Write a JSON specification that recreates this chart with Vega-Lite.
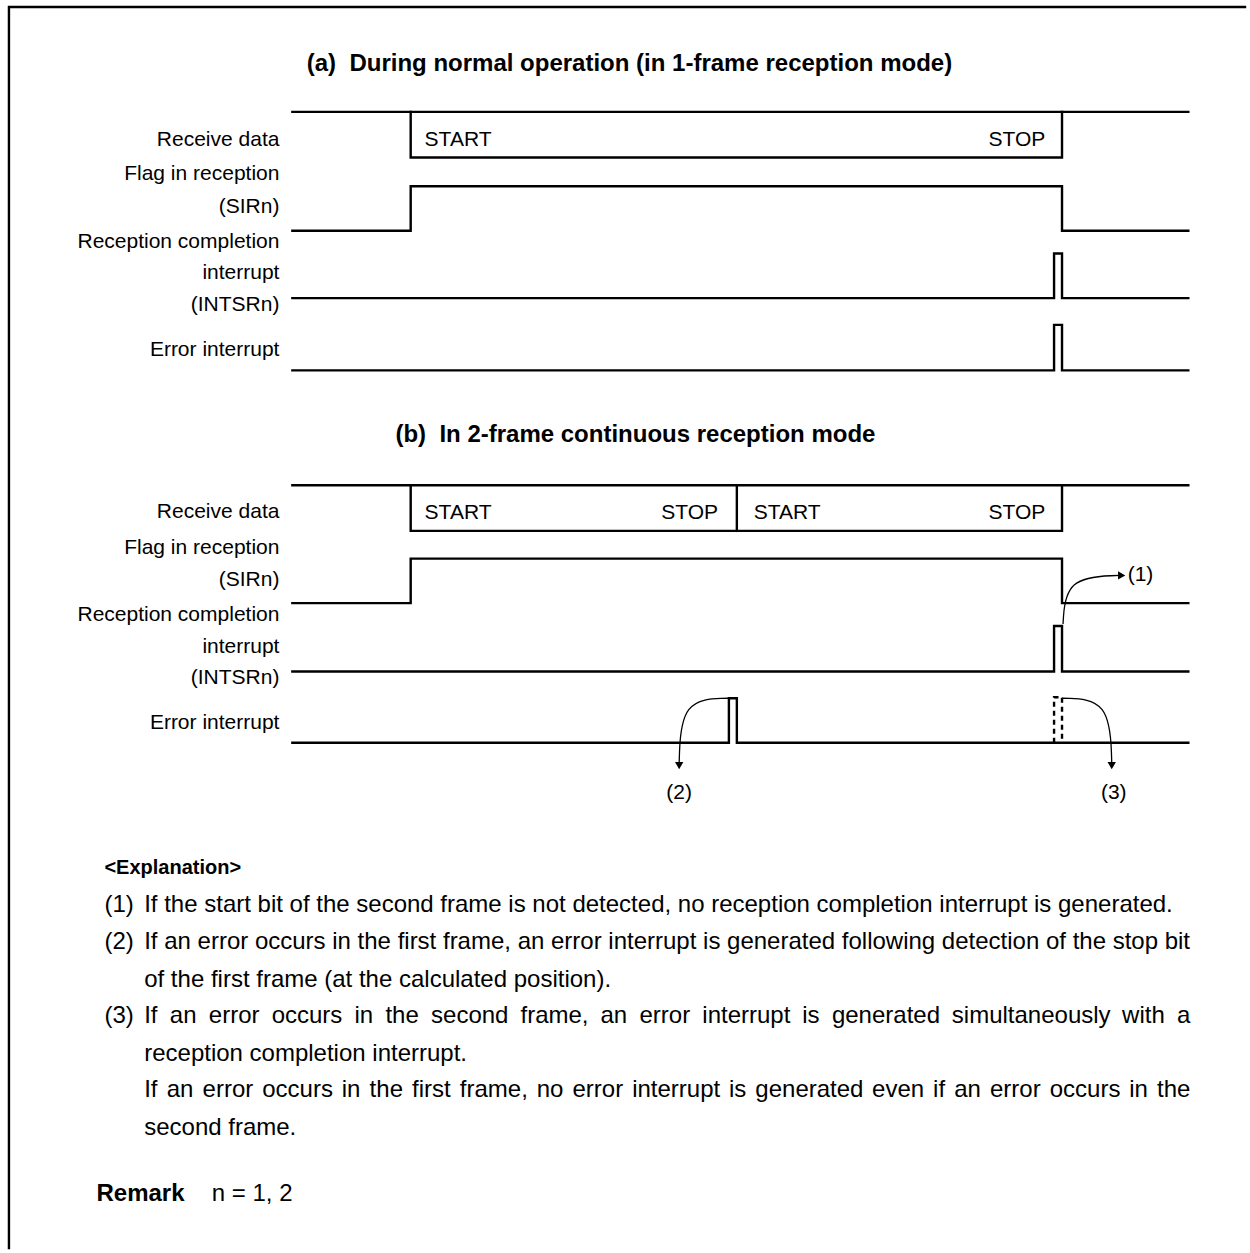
{
  "$schema": "https://vega.github.io/schema/vega-lite/v6.json",
  "width": 1250,
  "height": 1253,
  "autosize": {"type": "fit", "contains": "padding"},
  "padding": 0,
  "background": "white",
  "config": {"view": {"stroke": null}, "font": "Liberation Sans"},
  "datasets": {
    "w": [
      {"s": "frame", "o": 1, "x": 9, "y": 1260},
      {"s": "frame", "o": 2, "x": 9, "y": 7},
      {"s": "frame", "o": 3, "x": 1252, "y": 7},
      {"s": "a_rd_top", "o": 1, "x": 294, "y": 113},
      {"s": "a_rd_top", "o": 2, "x": 1195, "y": 113},
      {"s": "a_rd_box", "o": 1, "x": 413, "y": 113},
      {"s": "a_rd_box", "o": 2, "x": 413, "y": 159},
      {"s": "a_rd_box", "o": 3, "x": 1068, "y": 159},
      {"s": "a_rd_box", "o": 4, "x": 1068, "y": 113},
      {"s": "a_flag", "o": 1, "x": 294, "y": 233},
      {"s": "a_flag", "o": 2, "x": 413, "y": 233},
      {"s": "a_flag", "o": 3, "x": 413, "y": 188},
      {"s": "a_flag", "o": 4, "x": 1068, "y": 188},
      {"s": "a_flag", "o": 5, "x": 1068, "y": 233},
      {"s": "a_flag", "o": 6, "x": 1195, "y": 233},
      {"s": "a_rc", "o": 1, "x": 294, "y": 301},
      {"s": "a_rc", "o": 2, "x": 1060, "y": 301},
      {"s": "a_rc", "o": 3, "x": 1060, "y": 256},
      {"s": "a_rc", "o": 4, "x": 1068, "y": 256},
      {"s": "a_rc", "o": 5, "x": 1068, "y": 301},
      {"s": "a_rc", "o": 6, "x": 1195, "y": 301},
      {"s": "a_err", "o": 1, "x": 294, "y": 374},
      {"s": "a_err", "o": 2, "x": 1060, "y": 374},
      {"s": "a_err", "o": 3, "x": 1060, "y": 328},
      {"s": "a_err", "o": 4, "x": 1068, "y": 328},
      {"s": "a_err", "o": 5, "x": 1068, "y": 374},
      {"s": "a_err", "o": 6, "x": 1195, "y": 374},
      {"s": "b_rd_top", "o": 1, "x": 294, "y": 490},
      {"s": "b_rd_top", "o": 2, "x": 1195, "y": 490},
      {"s": "b_rd_box", "o": 1, "x": 413, "y": 490},
      {"s": "b_rd_box", "o": 2, "x": 413, "y": 536},
      {"s": "b_rd_box", "o": 3, "x": 1068, "y": 536},
      {"s": "b_rd_box", "o": 4, "x": 1068, "y": 490},
      {"s": "b_rd_div", "o": 1, "x": 741, "y": 490},
      {"s": "b_rd_div", "o": 2, "x": 741, "y": 536},
      {"s": "b_flag", "o": 1, "x": 294, "y": 609},
      {"s": "b_flag", "o": 2, "x": 413, "y": 609},
      {"s": "b_flag", "o": 3, "x": 413, "y": 564},
      {"s": "b_flag", "o": 4, "x": 1068, "y": 564},
      {"s": "b_flag", "o": 5, "x": 1068, "y": 609},
      {"s": "b_flag", "o": 6, "x": 1195, "y": 609},
      {"s": "b_rc", "o": 1, "x": 294, "y": 678},
      {"s": "b_rc", "o": 2, "x": 1060, "y": 678},
      {"s": "b_rc", "o": 3, "x": 1060, "y": 632},
      {"s": "b_rc", "o": 4, "x": 1068, "y": 632},
      {"s": "b_rc", "o": 5, "x": 1068, "y": 678},
      {"s": "b_rc", "o": 6, "x": 1195, "y": 678},
      {"s": "b_err", "o": 1, "x": 294, "y": 750},
      {"s": "b_err", "o": 2, "x": 733, "y": 750},
      {"s": "b_err", "o": 3, "x": 733, "y": 705},
      {"s": "b_err", "o": 4, "x": 741, "y": 705},
      {"s": "b_err", "o": 5, "x": 741, "y": 750},
      {"s": "b_err", "o": 6, "x": 1195, "y": 750}
    ],
    "d": [
      {"s": "dash", "o": 1, "x": 1060, "y": 750},
      {"s": "dash", "o": 2, "x": 1060, "y": 704},
      {"s": "dash", "o": 3, "x": 1068, "y": 704},
      {"s": "dash", "o": 4, "x": 1068, "y": 750}
    ],
    "c": [
      {"s": "c1", "o": 1, "x": 1069, "y": 630},
      {"s": "c1", "o": 2, "x": 1072, "y": 583},
      {"s": "c1", "o": 3, "x": 1126, "y": 581},
      {"s": "c2", "o": 1, "x": 733, "y": 705},
      {"s": "c2", "o": 2, "x": 685, "y": 706},
      {"s": "c2", "o": 3, "x": 683, "y": 770},
      {"s": "c3", "o": 1, "x": 1068, "y": 705},
      {"s": "c3", "o": 2, "x": 1116, "y": 706},
      {"s": "c3", "o": 3, "x": 1118, "y": 770}
    ],
    "h": [
      {"x": 1128, "y": 581, "shape": "triangle-right"},
      {"x": 683, "y": 773, "shape": "triangle-down"},
      {"x": 1118, "y": 773, "shape": "triangle-down"}
    ],
    "t": [
      {"k": "lab", "x": 281, "y": 141, "s": 21, "t": "Receive data"},
      {"k": "lab", "x": 281, "y": 176, "s": 21, "t": "Flag in reception"},
      {"k": "lab", "x": 281, "y": 209, "s": 21, "t": "(SIRn)"},
      {"k": "lab", "x": 281, "y": 244, "s": 21, "t": "Reception completion"},
      {"k": "lab", "x": 281, "y": 276, "s": 21, "t": "interrupt"},
      {"k": "lab", "x": 281, "y": 308, "s": 21, "t": "(INTSRn)"},
      {"k": "lab", "x": 281, "y": 353, "s": 21, "t": "Error interrupt"},
      {"k": "lab", "x": 281, "y": 517, "s": 21, "t": "Receive data"},
      {"k": "lab", "x": 281, "y": 553, "s": 21, "t": "Flag in reception"},
      {"k": "lab", "x": 281, "y": 586, "s": 21, "t": "(SIRn)"},
      {"k": "lab", "x": 281, "y": 621, "s": 21, "t": "Reception completion"},
      {"k": "lab", "x": 281, "y": 653, "s": 21, "t": "interrupt"},
      {"k": "lab", "x": 281, "y": 685, "s": 21, "t": "(INTSRn)"},
      {"k": "lab", "x": 281, "y": 730, "s": 21, "t": "Error interrupt"},
      {"k": "txt", "x": 427, "y": 141, "s": 21, "t": "START"},
      {"k": "txt", "x": 994, "y": 141, "s": 21, "t": "STOP"},
      {"k": "txt", "x": 427, "y": 518, "s": 21, "t": "START"},
      {"k": "txt", "x": 665, "y": 518, "s": 21, "t": "STOP"},
      {"k": "txt", "x": 758, "y": 518, "s": 21, "t": "START"},
      {"k": "txt", "x": 994, "y": 518, "s": 21, "t": "STOP"},
      {"k": "txt", "x": 1134, "y": 581, "s": 21, "t": "(1)"},
      {"k": "ctr", "x": 683, "y": 801, "s": 21, "t": "(2)"},
      {"k": "ctr", "x": 1120, "y": 801, "s": 21, "t": "(3)"},
      {"k": "bold", "x": 633, "y": 65, "s": 24, "t": "(a)\u00a0 During normal operation (in 1-frame reception mode)"},
      {"k": "bold", "x": 639, "y": 439, "s": 24, "t": "(b)\u00a0 In 2-frame continuous reception mode"},
      {"k": "boldl", "x": 105, "y": 876, "s": 20, "t": "<Explanation>"},
      {"k": "boldl", "x": 97, "y": 1206, "s": 24, "t": "Remark"},
      {"k": "txt", "x": 213, "y": 1206, "s": 24, "t": "n = 1, 2"},
      {"k": "txt", "x": 105, "y": 914, "s": 24, "t": "(1)"},
      {"k": "txt", "x": 145, "y": 914, "s": 24, "t": "If the start bit of the second frame is not detected, no reception completion interrupt is generated."},
      {"k": "txt", "x": 105, "y": 951, "s": 24, "t": "(2)"},
      {"k": "txt", "x": 145, "y": 951, "s": 24, "t": "If an error occurs in the first frame, an error interrupt is generated following detection of the stop bit"},
      {"k": "txt", "x": 145, "y": 989, "s": 24, "t": "of the first frame (at the calculated position)."},
      {"k": "txt", "x": 105, "y": 1026, "s": 24, "t": "(3)"},
      {"k": "txt", "x": 145, "y": 1026, "s": 24, "t": "If"},
      {"k": "txt", "x": 170.8, "y": 1026, "s": 24, "t": "an"},
      {"k": "txt", "x": 210, "y": 1026, "s": 24, "t": "error"},
      {"k": "txt", "x": 273.2, "y": 1026, "s": 24, "t": "occurs"},
      {"k": "txt", "x": 356.4, "y": 1026, "s": 24, "t": "in"},
      {"k": "txt", "x": 387.6, "y": 1026, "s": 24, "t": "the"},
      {"k": "txt", "x": 433.5, "y": 1026, "s": 24, "t": "second"},
      {"k": "txt", "x": 523.4, "y": 1026, "s": 24, "t": "frame,"},
      {"k": "txt", "x": 603.9, "y": 1026, "s": 24, "t": "an"},
      {"k": "txt", "x": 643.1, "y": 1026, "s": 24, "t": "error"},
      {"k": "txt", "x": 706.3, "y": 1026, "s": 24, "t": "interrupt"},
      {"k": "txt", "x": 806.8, "y": 1026, "s": 24, "t": "is"},
      {"k": "txt", "x": 836.6, "y": 1026, "s": 24, "t": "generated"},
      {"k": "txt", "x": 957.2, "y": 1026, "s": 24, "t": "simultaneously"},
      {"k": "txt", "x": 1128.4, "y": 1026, "s": 24, "t": "with"},
      {"k": "txt", "x": 1183.6, "y": 1026, "s": 24, "t": "a"},
      {"k": "txt", "x": 145, "y": 1064, "s": 24, "t": "reception completion interrupt."},
      {"k": "txt", "x": 145, "y": 1101, "s": 24, "t": "If"},
      {"k": "txt", "x": 167.7, "y": 1101, "s": 24, "t": "an"},
      {"k": "txt", "x": 203.7, "y": 1101, "s": 24, "t": "error"},
      {"k": "txt", "x": 263.7, "y": 1101, "s": 24, "t": "occurs"},
      {"k": "txt", "x": 343.7, "y": 1101, "s": 24, "t": "in"},
      {"k": "txt", "x": 371.7, "y": 1101, "s": 24, "t": "the"},
      {"k": "txt", "x": 414.4, "y": 1101, "s": 24, "t": "first"},
      {"k": "txt", "x": 462.4, "y": 1101, "s": 24, "t": "frame,"},
      {"k": "txt", "x": 539.7, "y": 1101, "s": 24, "t": "no"},
      {"k": "txt", "x": 575.7, "y": 1101, "s": 24, "t": "error"},
      {"k": "txt", "x": 635.7, "y": 1101, "s": 24, "t": "interrupt"},
      {"k": "txt", "x": 733.0, "y": 1101, "s": 24, "t": "is"},
      {"k": "txt", "x": 759.6, "y": 1101, "s": 24, "t": "generated"},
      {"k": "txt", "x": 877.0, "y": 1101, "s": 24, "t": "even"},
      {"k": "txt", "x": 938.3, "y": 1101, "s": 24, "t": "if"},
      {"k": "txt", "x": 959.6, "y": 1101, "s": 24, "t": "an"},
      {"k": "txt", "x": 995.6, "y": 1101, "s": 24, "t": "error"},
      {"k": "txt", "x": 1055.6, "y": 1101, "s": 24, "t": "occurs"},
      {"k": "txt", "x": 1135.6, "y": 1101, "s": 24, "t": "in"},
      {"k": "txt", "x": 1163.6, "y": 1101, "s": 24, "t": "the"},
      {"k": "txt", "x": 145, "y": 1139, "s": 24, "t": "second frame."}
    ]
  },
  "encoding": {
    "x": {"field": "x", "type": "quantitative", "scale": {"domain": [0, 1250], "nice": false, "zero": false}, "axis": null},
    "y": {"field": "y", "type": "quantitative", "scale": {"domain": [0, 1253], "nice": false, "zero": false, "reverse": true}, "axis": null}
  },
  "layer": [
    {
      "data": {"name": "w"},
      "mark": {"type": "line", "color": "black", "strokeWidth": 2.4, "strokeCap": "square", "strokeJoin": "miter", "clip": false},
      "encoding": {"detail": {"field": "s"}, "order": {"field": "o", "type": "quantitative"}}
    },
    {
      "data": {"name": "d"},
      "mark": {"type": "line", "color": "black", "strokeWidth": 2.4, "strokeDash": [5, 4]},
      "encoding": {"detail": {"field": "s"}, "order": {"field": "o", "type": "quantitative"}}
    },
    {
      "data": {"name": "c"},
      "mark": {"type": "line", "color": "black", "strokeWidth": 1.3, "interpolate": "basis"},
      "encoding": {"detail": {"field": "s"}, "order": {"field": "o", "type": "quantitative"}}
    },
    {
      "data": {"name": "h"},
      "mark": {"type": "point", "filled": true, "color": "black", "opacity": 1, "size": 70},
      "encoding": {"shape": {"field": "shape", "type": "nominal", "scale": null}}
    },
    {
      "data": {"name": "t"},
      "transform": [{"filter": "datum.k === 'lab'"}],
      "mark": {"type": "text", "align": "right", "baseline": "middle", "color": "black", "font": "Liberation Sans"},
      "encoding": {"text": {"field": "t"}, "size": {"field": "s", "type": "quantitative", "scale": null}}
    },
    {
      "data": {"name": "t"},
      "transform": [{"filter": "datum.k === 'txt'"}],
      "mark": {"type": "text", "align": "left", "baseline": "middle", "color": "black", "font": "Liberation Sans"},
      "encoding": {"text": {"field": "t"}, "size": {"field": "s", "type": "quantitative", "scale": null}}
    },
    {
      "data": {"name": "t"},
      "transform": [{"filter": "datum.k === 'ctr'"}],
      "mark": {"type": "text", "align": "center", "baseline": "middle", "color": "black", "font": "Liberation Sans"},
      "encoding": {"text": {"field": "t"}, "size": {"field": "s", "type": "quantitative", "scale": null}}
    },
    {
      "data": {"name": "t"},
      "transform": [{"filter": "datum.k === 'bold'"}],
      "mark": {"type": "text", "align": "center", "baseline": "middle", "color": "black", "font": "Liberation Sans", "fontWeight": "bold"},
      "encoding": {"text": {"field": "t"}, "size": {"field": "s", "type": "quantitative", "scale": null}}
    },
    {
      "data": {"name": "t"},
      "transform": [{"filter": "datum.k === 'boldl'"}],
      "mark": {"type": "text", "align": "left", "baseline": "middle", "color": "black", "font": "Liberation Sans", "fontWeight": "bold"},
      "encoding": {"text": {"field": "t"}, "size": {"field": "s", "type": "quantitative", "scale": null}}
    }
  ]
}
